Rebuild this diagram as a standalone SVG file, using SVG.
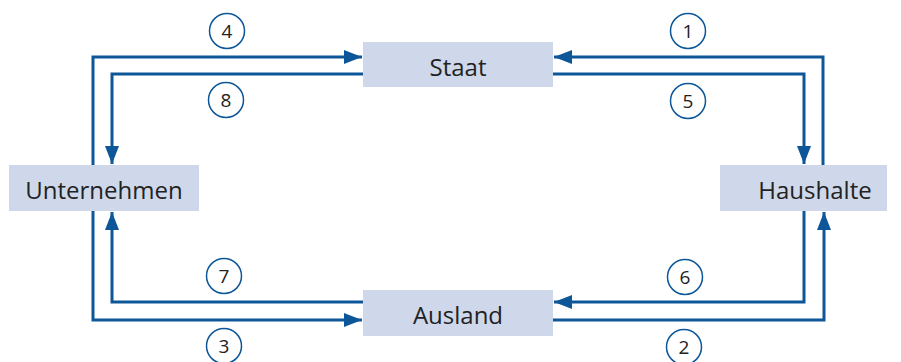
<svg xmlns="http://www.w3.org/2000/svg" width="901" height="362" viewBox="0 0 901 362">
  <style>
    .box { fill: #cfd8ea; }
    .label { font-family: "Open Sans", "Liberation Sans", sans-serif; font-size: 24px; fill: #222; text-anchor: middle; }
    .flow { fill: none; stroke: #0d5799; stroke-width: 3; }
    .badge { fill: #fff; stroke: #0d5799; stroke-width: 1.5; }
    .num { font-family: "Open Sans", "Liberation Sans", sans-serif; font-size: 19px; fill: #222; text-anchor: middle; }
  </style>
  <defs>
    <marker id="arrow" markerUnits="userSpaceOnUse" markerWidth="20" markerHeight="16" refX="18" refY="7" orient="auto">
      <path d="M0,0 L18,7 L0,14 Z" fill="#0d5799"/>
    </marker>
  </defs>
  <rect width="901" height="362" fill="#fff"/>

  <g id="connectors">
    <!-- outer loop: 4, 1, 2, 3 -->
    <path class="flow" d="M93,165 V57 H362" marker-end="url(#arrow)"/>
    <path class="flow" d="M823,165 V57 H554" marker-end="url(#arrow)"/>
    <path class="flow" d="M553,320 H824 V212" marker-end="url(#arrow)"/>
    <path class="flow" d="M93,211 V320 H362" marker-end="url(#arrow)"/>
    <!-- inner loop: 8, 5, 6, 7 -->
    <path class="flow" d="M363,74 H112 V164" marker-end="url(#arrow)"/>
    <path class="flow" d="M553,74 H804 V164" marker-end="url(#arrow)"/>
    <path class="flow" d="M804,211 V302 H554" marker-end="url(#arrow)"/>
    <path class="flow" d="M363,302 H112 V212" marker-end="url(#arrow)"/>
  </g>

  <g id="staat">
    <rect class="box" x="363" y="42" width="190" height="45"/>
    <text class="label" x="458" y="76">Staat</text>
  </g>
  <g id="unternehmen">
    <rect class="box" x="9" y="165" width="190" height="46"/>
    <text class="label" x="104" y="199">Unternehmen</text>
  </g>
  <g id="haushalte">
    <rect class="box" x="720" y="165" width="167" height="46"/>
    <text class="label" x="815" y="199">Haushalte</text>
  </g>
  <g id="ausland">
    <rect class="box" x="363" y="290" width="190" height="46"/>
    <text class="label" x="458" y="324">Ausland</text>
  </g>

  <g id="badges">
    <circle class="badge" cx="227" cy="31" r="17.5"/><text class="num" x="227" y="38">4</text>
    <circle class="badge" cx="226" cy="100" r="17.5"/><text class="num" x="226" y="107">8</text>
    <circle class="badge" cx="688" cy="31" r="17.5"/><text class="num" x="688" y="38">1</text>
    <circle class="badge" cx="688" cy="101" r="17.5"/><text class="num" x="688" y="108">5</text>
    <circle class="badge" cx="224" cy="276" r="17.5"/><text class="num" x="224" y="283">7</text>
    <circle class="badge" cx="224" cy="346" r="17.5"/><text class="num" x="224" y="353">3</text>
    <circle class="badge" cx="685" cy="277" r="17.5"/><text class="num" x="685" y="284">6</text>
    <circle class="badge" cx="684" cy="347" r="17.5"/><text class="num" x="684" y="354">2</text>
  </g>
</svg>
